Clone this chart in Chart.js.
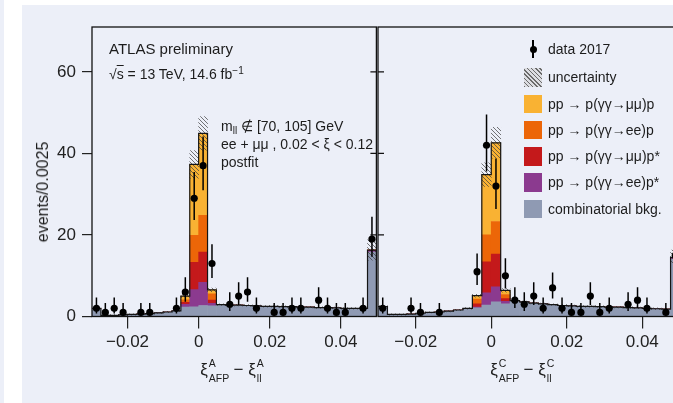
<!DOCTYPE html>
<html>
<head>
<meta charset="utf-8">
<script src="https://cdn.jsdelivr.net/npm/chart.js@4.4.1/dist/chart.umd.min.js"></script>
<style>
  html, body { margin: 0; padding: 0; width: 673px; height: 403px; overflow: hidden; background: #fff;
    font-family: "Liberation Sans", Arial, sans-serif; color: #1c1c1c; }
  #strip { position: absolute; left: 0; top: 0; width: 4px; height: 403px; background: #eceff8; }
  #panel { position: absolute; left: 22px; top: 5px; width: 651px; height: 398px; background: #eceff8; }
  canvas { position: absolute; top: 0; }
  #cA { left: 0; }
  #cC { left: 374px; }
  .t { position: absolute; white-space: nowrap; line-height: 1; }
  .lt { left: 548px; font-size: 14px; }
  .box { position: absolute; left: 524px; width: 18px; height: 18.5px; }
  .hatch { background: repeating-linear-gradient(45deg, #6b6b6b 0 1px, #dcdde2 1px 3px); }
  .xt { position: absolute; top: 361px; font-size: 17px; line-height: 1; white-space: nowrap; transform: translateX(-50%); }
  .ss { position: relative; display: inline-block; height: 0; font-size: 10.5px; }
  .ss span { position: absolute; left: 1px; line-height: 1; }
  .up { top: -17px; }
  .dn { top: -2px; }
  sup { font-size: 10px; vertical-align: 5px; line-height: 0; }
  sub { font-size: 10px; vertical-align: -3px; line-height: 0; }
</style>
</head>
<body>
<div id="strip"></div>
<div id="panel"></div>
<canvas id="cA" width="380" height="403"></canvas>
<canvas id="cC" width="316" height="403"></canvas>

<!-- y title -->
<div class="t" style="left:43px; top:192px; font-size:16px; transform: translate(-50%,-50%) rotate(-90deg);">events/0.0025</div>

<!-- left panel annotations -->
<div class="t" style="left:109px; top:40.5px; font-size:15px;">ATLAS preliminary</div>
<div class="t" style="left:109px; top:67px; font-size:14px;">√<span style="text-decoration: overline;">s</span> = 13 TeV, 14.6 fb<sup>−1</sup></div>
<div class="t" style="left:221px; top:119px; font-size:14px;">m<sub>ll</sub> ∉ [70, 105] GeV</div>
<div class="t" style="left:221px; top:136.5px; font-size:14px;">ee + μμ , 0.02 &lt; ξ &lt; 0.12</div>
<div class="t" style="left:221px; top:155px; font-size:14px;">postfit</div>

<!-- legend -->
<div style="position:absolute; left:532.3px; top:40px; width:1.5px; height:18px; background:#000;"></div>
<div style="position:absolute; left:529.5px; top:45.5px; width:7px; height:7px; border-radius:50%; background:#000;"></div>
<div class="t lt" style="top:42px;">data 2017</div>
<div class="box hatch" style="top:68px;"></div>
<div class="t lt" style="top:70px;">uncertainty</div>
<div class="box" style="top:94.5px; background:#f9b233;"></div>
<div class="t lt" style="top:96.5px;">pp → p(γγ→μμ)p</div>
<div class="box" style="top:120.5px; background:#ec6608;"></div>
<div class="t lt" style="top:122.5px;">pp → p(γγ→ee)p</div>
<div class="box" style="top:147px; background:#c4191b;"></div>
<div class="t lt" style="top:149px;">pp → p(γγ→μμ)p*</div>
<div class="box" style="top:173px; background:#8b3a8f;"></div>
<div class="t lt" style="top:175px;">pp → p(γγ→ee)p*</div>
<div class="box" style="top:199.5px; background:#8f9ab3;"></div>
<div class="t lt" style="top:201.5px;">combinatorial bkg.</div>

<!-- x titles -->
<div class="xt" style="left:232px;">ξ<span class="ss" style="width:21px;"><span class="up">A</span><span class="dn">AFP</span></span> − ξ<span class="ss" style="width:8px;"><span class="up">A</span><span class="dn">ll</span></span></div>
<div class="xt" style="left:522px;">ξ<span class="ss" style="width:21px;"><span class="up">C</span><span class="dn">AFP</span></span> − ξ<span class="ss" style="width:8px;"><span class="up">C</span><span class="dn">ll</span></span></div>

<script>
// bins of 0.0025 from -0.03 to 0.05
const binEdges = Array.from({length: 33}, (_, i) => +(-0.03 + i * 0.0025).toFixed(4));
const binCenters = binEdges.slice(0, 32).map(e => +(e + 0.00125).toFixed(5));

const xTickVals = [-0.02, 0, 0.02, 0.04];
const yTickVals = [0, 20, 40, 60];

// side A
const dataA    = [2, 1, 2, 1, 0, 1, 1, 0, 0, 2, 6, 29, 37, 13, 0, 3, 5, 6, 2, 0, 1, 1, 2, 2, 0, 4, 2, 1, 1, 0, 2, 19];
const combA    = [2.0, 0.3, 0.3, 0.4, 0.5, 0.6, 0.7, 0.9, 1.1, 1.4, 2.3, 2.4, 2.7, 2.6, 2.9, 2.8, 2.8, 2.7, 2.6, 2.5, 2.5, 2.4, 2.4, 2.3, 2.3, 2.2, 2.2, 2.1, 2.0, 2.0, 2.0, 15.8];
const eeStarA  = [0, 0, 0, 0, 0, 0, 0, 0, 0, 0, 0.7, 4.2, 5.7, 0.65, 0, 0, 0, 0, 0, 0, 0, 0, 0, 0, 0, 0, 0, 0, 0, 0, 0, 0.3];
const mmStarA  = [0, 0, 0, 0, 0, 0, 0, 0, 0, 0, 0.5, 6.7, 7.4, 0.8, 0, 0, 0, 0, 0, 0, 0, 0, 0, 0, 0, 0, 0, 0, 0, 0, 0, 0.2];
const eeA      = [0, 0, 0, 0, 0, 0, 0, 0, 0, 0, 0.6, 6.6, 9.0, 1.5, 0, 0, 0, 0, 0, 0, 0, 0, 0, 0, 0, 0, 0, 0, 0, 0, 0, 0];
const mmA      = [0, 0, 0, 0, 0, 0, 0, 0, 0, 0, 0.9, 17.4, 20.1, 1.0, 0, 0, 0, 0, 0, 0, 0, 0, 0, 0, 0, 0, 0, 0, 0, 0, 0, 0];
const uncA     = [0.3, 0.15, 0.15, 0.15, 0.15, 0.15, 0.15, 0.15, 0.15, 0.2, 0.35, 3.4, 4.1, 0.45, 0.2, 0.2, 0.2, 0.2, 0.2, 0.2, 0.2, 0.2, 0.2, 0.2, 0.2, 0.2, 0.2, 0.2, 0.2, 0.2, 0.2, 2.5];

// side C
const dataC    = [2, 0, 0, 2, 1, 0, 1, 0, 0, 0, 11, 42, 32, 10, 4, 3, 5, 2, 7, 2, 1, 1, 5, 1, 2, 0, 3, 4, 2, 0, 1, 15];
const combC    = [2.4, 0.5, 0.5, 0.6, 0.8, 1.0, 1.1, 1.3, 1.6, 2.0, 2.1, 2.8, 3.6, 3.1, 3.9, 3.6, 3.3, 3.1, 2.9, 2.7, 2.6, 2.5, 2.5, 2.4, 2.3, 2.3, 2.2, 2.1, 2.0, 1.9, 1.8, 14.0];
const eeStarC  = [0, 0, 0, 0, 0, 0, 0, 0, 0, 0, 0.2, 3.0, 3.7, 0.65, 0, 0, 0, 0, 0, 0, 0, 0, 0, 0, 0, 0, 0, 0, 0, 0, 0, 0.3];
const mmStarC  = [0, 0, 0, 0, 0, 0, 0, 0, 0, 0, 0.8, 7.6, 8.0, 0.65, 0, 0, 0, 0, 0, 0, 0, 0, 0, 0, 0, 0, 0, 0, 0, 0, 0, 0.2];
const eeC      = [0, 0, 0, 0, 0, 0, 0, 0, 0, 0, 1.2, 6.6, 8.0, 1.0, 0, 0, 0, 0, 0, 0, 0, 0, 0, 0, 0, 0, 0, 0, 0, 0, 0, 0];
const mmC      = [0, 0, 0, 0, 0, 0, 0, 0, 0, 0, 0.8, 14.8, 19.3, 1.0, 0, 0, 0, 0, 0, 0, 0, 0, 0, 0, 0, 0, 0, 0, 0, 0, 0, 0];
const uncC     = [0.3, 0.15, 0.15, 0.15, 0.15, 0.15, 0.15, 0.15, 0.15, 0.2, 0.35, 2.9, 3.8, 0.45, 0.2, 0.2, 0.2, 0.2, 0.2, 0.2, 0.2, 0.2, 0.2, 0.2, 0.2, 0.2, 0.2, 0.2, 0.2, 0.2, 0.2, 1.8];

const colors = { mm: '#f9b233', ee: '#ec6608', mmStar: '#c4191b', eeStar: '#8b3a8f', comb: '#8f9ab3' };

Chart.defaults.font.family = '"Liberation Sans", Arial, sans-serif';
Chart.defaults.color = '#1c1c1c';

// hatch pattern for the uncertainty band
function makeHatch() {
    const c = document.createElement('canvas');
    c.width = 4; c.height = 4;
    const g = c.getContext('2d');
    g.strokeStyle = 'rgba(60,60,60,0.7)';
    g.lineWidth = 1;
    g.beginPath();
    g.moveTo(-1, -1); g.lineTo(5, 5);
    g.moveTo(-1, 3); g.lineTo(1, 5);
    g.moveTo(3, -1); g.lineTo(5, 1);
    g.stroke();
    return g.createPattern(c, 'repeat');
}
const hatch = makeHatch();

// approximate Poisson 68% interval (Gehrels)
function poissonInterval(n) {
    const lo = n * Math.pow(1 - 1 / (9 * n) - 1 / (3 * Math.sqrt(n)), 3);
    const hi = n + 1 + Math.sqrt(n + 0.75);
    return [lo, hi];
}

const errorBars = {
    id: 'errorBars',
    afterDatasetsDraw(chart) {
        const ds = chart.data.datasets[0];
        const meta = chart.getDatasetMeta(0);
        const y = chart.scales.y;
        const a = chart.chartArea;
        const ctx = chart.ctx;
        ctx.save();
        ctx.beginPath();
        ctx.rect(a.left, a.top, a.right - a.left, a.bottom - a.top);
        ctx.clip();
        ctx.strokeStyle = '#000';
        ctx.lineWidth = 1.5;
        ds.counts.forEach((n, i) => {
            if (!n) return;
            const pt = meta.data[i];
            const [lo, hi] = poissonInterval(n);
            ctx.beginPath();
            ctx.moveTo(pt.x, y.getPixelForValue(lo));
            ctx.lineTo(pt.x, y.getPixelForValue(hi));
            ctx.stroke();
        });
        ctx.restore();
    }
};

const framePlugin = {
    id: 'frame',
    afterDatasetsDraw(chart, args, opts) {
        const ctx = chart.ctx;
        const a = chart.chartArea;
        const y = chart.scales.y;
        ctx.save();
        ctx.strokeStyle = '#111';
        ctx.lineWidth = 1.3;
        ctx.strokeRect(a.left, a.top, a.right - a.left, a.bottom - a.top);
        if (opts.innerTicks) {
            const x0 = opts.innerTicks === 'right' ? a.right : a.left;
            const dx = opts.innerTicks === 'right' ? -6 : 6;
            ctx.lineWidth = 1.2;
            ctx.beginPath();
            yTickVals.forEach(v => {
                if (v === 0) return;
                const py = y.getPixelForValue(v);
                ctx.moveTo(x0, py);
                ctx.lineTo(x0 + dx, py);
            });
            ctx.stroke();
        }
        ctx.restore();
    }
};

function fmtX(v) {
    if (v === 0) return '0';
    return (v < 0 ? '\u2212' : '') + Math.abs(v).toFixed(2);
}

function buildChart(id, p, showY, padding, innerTicks) {
    const ctx = document.getElementById(id).getContext('2d');
    const xy = arr => arr.map((v, i) => ({x: binCenters[i], y: v}));
    const total = p.comb.map((v, i) => v + p.eeStar[i] + p.mmStar[i] + p.ee[i] + p.mm[i]);
    const outline = binEdges.map((e, i) => ({x: e, y: total[Math.min(i, total.length - 1)]}));
    const band = total.map((t, i) => ({x: binCenters[i], y: [t - p.unc[i], t + p.unc[i]]}));
    const bar = (label, arr, color, order) => ({
        type: 'bar', label: label, data: xy(arr), backgroundColor: color, stack: 'sm', order: order,
        grouped: false, barPercentage: 1, categoryPercentage: 1, borderWidth: 0
    });

    return new Chart(ctx, {
        type: 'bar',
        data: {
            datasets: [
                {
                    type: 'line', label: 'data 2017', counts: p.data,
                    data: p.data.map((v, i) => ({x: binCenters[i], y: v > 0 ? v : null})),
                    showLine: false, pointRadius: 3.6, pointHoverRadius: 3.6,
                    pointBackgroundColor: '#000', pointBorderWidth: 0, stack: 'pts', order: 0
                },
                {
                    type: 'line', label: 'total', data: outline, stepped: true,
                    borderColor: '#151515', borderWidth: 1.2, pointRadius: 0, fill: false, stack: 'tot', order: 1
                },
                {
                    type: 'bar', label: 'uncertainty', data: band, backgroundColor: hatch, stack: 'unc', order: 2,
                    grouped: false, barPercentage: 1, categoryPercentage: 1, borderWidth: 0
                },
                bar('combinatorial bkg.', p.comb, colors.comb, 3),
                bar('pp → p(γγ→ee)p*', p.eeStar, colors.eeStar, 4),
                bar('pp → p(γγ→μμ)p*', p.mmStar, colors.mmStar, 5),
                bar('pp → p(γγ→ee)p', p.ee, colors.ee, 6),
                bar('pp → p(γγ→μμ)p', p.mm, colors.mm, 7)
            ]
        },
        options: {
            responsive: false,
            animation: false,
            events: [],
            layout: { padding: padding },
            plugins: {
                legend: { display: false },
                tooltip: { enabled: false },
                frame: { innerTicks: innerTicks }
            },
            scales: {
                x: {
                    type: 'linear', min: -0.03, max: 0.05, offset: false,
                    afterBuildTicks: s => { s.ticks = xTickVals.map(v => ({value: v})); },
                    afterFit: s => { s.height = 86.5; },
                    grid: { display: true, drawOnChartArea: false, drawTicks: true, tickLength: 12,
                            color: '#222', lineWidth: 1.2, offset: false },
                    border: { display: false },
                    ticks: { padding: 4, font: { size: 17 }, color: '#222', maxRotation: 0, autoSkip: false,
                             callback: v => fmtX(v) }
                },
                y: {
                    stacked: true, min: 0, max: 71, display: showY,
                    afterBuildTicks: s => { s.ticks = yTickVals.map(v => ({value: v})); },
                    afterFit: s => { s.width = showY ? 92 : 0; },
                    grid: { display: true, drawOnChartArea: false, drawTicks: true, tickLength: 10,
                            color: '#222', lineWidth: 1.2 },
                    border: { display: false },
                    ticks: { padding: 6, font: { size: 17 }, color: '#222' }
                }
            }
        },
        plugins: [errorBars, framePlugin]
    });
}

const panelA = { data: dataA, comb: combA, eeStar: eeStarA, mmStar: mmStarA, ee: eeA, mm: mmA, unc: uncA };
const panelC = { data: dataC, comb: combC, eeStar: eeStarC, mmStar: mmStarC, ee: eeC, mm: mmC, unc: uncC };

buildChart('cA', panelA, true, { top: 27, left: 0, right: 2, bottom: 0 }, 'right');
buildChart('cC', panelC, false, { top: 27, left: 4, right: 10, bottom: 0 }, 'left');
</script>
</body>
</html>
